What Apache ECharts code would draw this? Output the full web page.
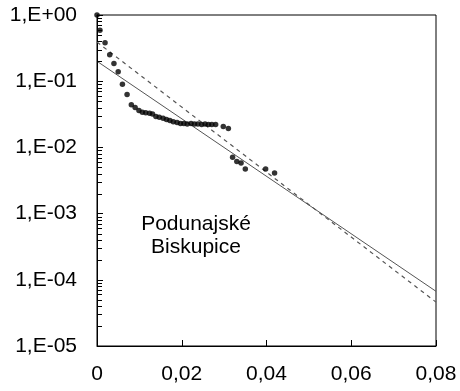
<!DOCTYPE html>
<html>
<head>
<meta charset="utf-8">
<script src="https://cdn.jsdelivr.net/npm/echarts@6/dist/echarts.min.js"></script>
<style>
  html, body { margin: 0; padding: 0; background: #fff; }
  #chart { width: 460px; height: 391px; }
</style>
</head>
<body>
<div id="chart"></div>
<script>
// Measured profile: relative value vs. distance
const depthX = [0, 0.0007, 0.0019, 0.0030, 0.0040, 0.0050, 0.0060, 0.0071, 0.0081, 0.0090,
  0.0099, 0.0107, 0.0115, 0.0124, 0.0131, 0.0139, 0.0147, 0.0156, 0.0164, 0.0172,
  0.0180, 0.0189, 0.0197, 0.0205, 0.0213, 0.0222, 0.0230, 0.0238, 0.0247, 0.0255,
  0.0263, 0.0271, 0.0280, 0.0298, 0.0310, 0.0320, 0.0330, 0.0340, 0.0350, 0.0398, 0.0419];
const relY = [1.0, 0.59, 0.38, 0.25, 0.185, 0.139, 0.090, 0.063, 0.044, 0.040,
  0.036, 0.034, 0.0335, 0.0327, 0.0320, 0.0292, 0.0285, 0.0275, 0.0265, 0.0254,
  0.0245, 0.0237, 0.0229, 0.0229, 0.0225, 0.0229, 0.0225, 0.0225, 0.0222, 0.0225,
  0.0222, 0.0222, 0.0222, 0.0206, 0.0193, 0.0071, 0.0061, 0.0058, 0.0047, 0.0047, 0.0041];

// Two exponential trend lines (straight on the log axis), given by their end values
const solidX = [0, 0.08];
const solidY = [0.2, 6.7e-5];
const dashX = [0, 0.08];
const dashY = [0.39, 4.6e-5];

// Axis ticks
const xTickValues = [0, 0.02, 0.04, 0.06, 0.08];
const xTickLabels = ['0', '0,02', '0,04', '0,06', '0,08'];
const yTickValues = [1e-5, 1e-4, 1e-3, 1e-2, 1e-1, 1];
const yTickLabels = ['1,E-05', '1,E-04', '1,E-03', '1,E-02', '1,E-01', '1,E+00'];

const siteLines = ['Podunajské', 'Biskupice'];

const FONT = "'Liberation Sans', Arial, sans-serif";

// Minor ticks at 2..9 of every decade of the log axis
const minorTicks = [];
for (let d = -5; d < 0; d++) {
  for (let m = 2; m <= 9; m++) minorTicks.push([0, m * Math.pow(10, d)]);
}

const chart = echarts.init(document.getElementById('chart'), null, { renderer: 'canvas' });

chart.setOption({
  animation: false,
  backgroundColor: '#fff',
  grid: {
    left: 97, right: 24, top: 15, bottom: 45,
    show: true, borderColor: '#000', borderWidth: 1, backgroundColor: 'transparent'
  },
  xAxis: {
    type: 'value',
    min: 0, max: 0.08, interval: 0.02,
    axisLine: { show: true, lineStyle: { color: '#000', width: 1 } },
    axisTick: { show: true, inside: true, length: 6, lineStyle: { color: '#000' } },
    splitLine: { show: false },
    axisLabel: {
      color: '#000', fontFamily: FONT, fontSize: 21, margin: 18,
      formatter: v => {
        const i = xTickValues.findIndex(t => Math.abs(t - v) < 1e-9);
        return i >= 0 ? xTickLabels[i] : '';
      }
    }
  },
  yAxis: {
    type: 'log', logBase: 10,
    min: 1e-5, max: 1,
    axisLine: { show: true, lineStyle: { color: '#000', width: 1 } },
    axisTick: { show: true, inside: true, length: 6, lineStyle: { color: '#000' } },
    splitLine: { show: false },
    minorTick: { show: false },
    axisLabel: {
      color: '#000', fontFamily: FONT, fontSize: 21, margin: 20,
      formatter: v => {
        const i = yTickValues.findIndex(t => Math.abs(Math.log10(t) - Math.log10(v)) < 1e-6);
        return i >= 0 ? yTickLabels[i] : '';
      }
    }
  },
  graphic: [{
    type: 'text',
    x: 196, y: 236,
    style: {
      text: siteLines.join('\n'),
      fill: '#000',
      font: "21px 'Liberation Sans', Arial, sans-serif",
      align: 'center', verticalAlign: 'middle',
      lineHeight: 23
    }
  }],
  series: [
    {
      name: 'minor ticks',
      type: 'custom',
      silent: true,
      clip: false,
      data: minorTicks,
      renderItem: (params, api) => {
        const p = api.coord([0, api.value(1)]);
        const y = Math.round(p[1]) + 0.5;
        return {
          type: 'line',
          shape: { x1: p[0], y1: y, x2: p[0] + 5, y2: y },
          style: { stroke: '#000', lineWidth: 1 }
        };
      },
      z: 5
    },
    {
      name: 'trend',
      type: 'line',
      data: solidX.map((x, i) => [x, solidY[i]]),
      symbol: 'none',
      lineStyle: { color: '#555', width: 1, type: 'solid' },
      z: 2
    },
    {
      name: 'trend2',
      type: 'line',
      data: dashX.map((x, i) => [x, dashY[i]]),
      symbol: 'none',
      lineStyle: { color: '#555', width: 1.2, type: [4, 4] },
      z: 2
    },
    {
      name: 'measured',
      type: 'scatter',
      data: depthX.map((x, i) => [x, relY[i]]),
      symbol: 'circle',
      symbolSize: 5.5,
      itemStyle: { color: '#000' },
      clip: false,
      z: 3
    }
  ]
});
</script>
</body>
</html>
